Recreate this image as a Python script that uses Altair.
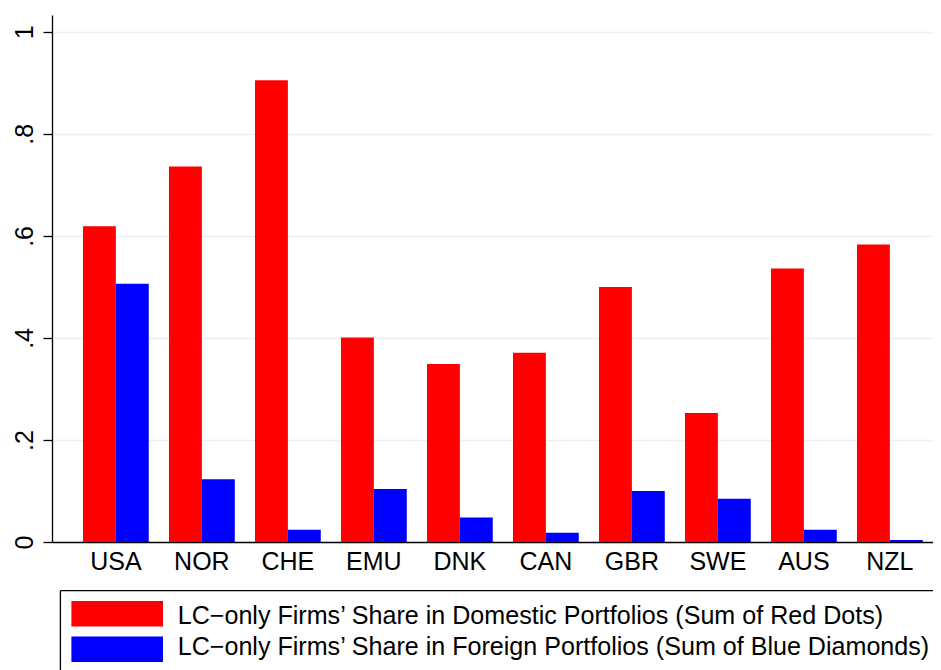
import altair as alt
import pandas as pd

countries = ["USA", "NOR", "CHE", "EMU", "DNK", "CAN", "GBR", "SWE", "AUS", "NZL"]
domestic = [0.619, 0.736, 0.905, 0.401, 0.349, 0.371, 0.500, 0.253, 0.536, 0.583]
foreign = [0.506, 0.123, 0.024, 0.104, 0.048, 0.018, 0.100, 0.085, 0.024, 0.004]
series_names = [
    "LC\u2212only Firms\u2019 Share in Domestic Portfolios (Sum of Red Dots)",
    "LC\u2212only Firms\u2019 Share in Foreign Portfolios (Sum of Blue Diamonds)",
]
series_colors = ["#ff0000", "#0000ff"]
y_ticks = [0, 0.2, 0.4, 0.6, 0.8, 1.0]
y_tick_labels = ["0", ".2", ".4", ".6", ".8", "1"]

rows = []
for c, d, f in zip(countries, domestic, foreign):
    rows.append({"country": c, "series": series_names[0], "value": d})
    rows.append({"country": c, "series": series_names[1], "value": f})
df = pd.DataFrame(rows)
legend_df = pd.DataFrame({"series": series_names})
one = pd.DataFrame({"a": [0]})

FONT = "Liberation Sans"
W, H = 881, 527
PAD_LEFT, PAD_TOP, PAD_BOTTOM = 44, 7, 128

label_expr = " : ".join(
    f"abs(datum.value - {v}) < 1e-6 ? '{l}'" for v, l in zip(y_ticks, y_tick_labels)
) + " : ''"

color_scale = alt.Scale(domain=series_names, range=series_colors)

bars = alt.Chart(df).mark_bar().encode(
    x=alt.X(
        "country:N",
        sort=countries,
        scale=alt.Scale(paddingInner=0.235, paddingOuter=0.2395, align=0.752),
        axis=alt.Axis(
            title=None, ticks=False, tickSize=0, labelAngle=0, labelFont=FONT,
            labelFontSize=25, labelColor="black", labelBaseline="alphabetic",
            labelPadding=27, domain=True, domainColor="black", domainWidth=1.3,
            grid=False,
        ),
    ),
    xOffset=alt.XOffset("series:N", sort=series_names,
                        scale=alt.Scale(paddingInner=0, paddingOuter=0)),
    y=alt.Y(
        "value:Q",
        scale=alt.Scale(domain=[0, 1.033], nice=False),
        axis=alt.Axis(
            title=None, values=y_ticks, labelExpr=label_expr, labelAngle=270,
            labelAlign="center", labelBaseline="alphabetic", labelPadding=11,
            ticks=True, tickSize=9, tickColor="black", tickWidth=1.3,
            domain=True, domainColor="black", domainWidth=1.3,
            grid=True, gridColor="#eaf1f3", gridWidth=1.5,
            labelFont=FONT, labelFontSize=25, labelColor="black",
        ),
    ),
    color=alt.Color("series:N", scale=color_scale, legend=None),
)

leg_y = alt.Y("series:N", sort=series_names,
              scale=alt.Scale(range=[586, 647], paddingInner=0.28, paddingOuter=0),
              axis=None)

leg_rect = alt.Chart(legend_df).mark_bar().encode(
    x=alt.value(19.4), x2=alt.value(111), y=leg_y,
    color=alt.Color("series:N", scale=color_scale, legend=None),
)

leg_text = alt.Chart(legend_df).mark_text(
    align="left", baseline="middle", font=FONT, fontSize=25.1, color="black"
).encode(x=alt.value(125.7), y=leg_y, text="series:N")

box_top = alt.Chart(one).mark_rule(color="black", strokeWidth=1.3).encode(
    x=alt.value(8.4), x2=alt.value(W), y=alt.value(575.7)
)
box_left = alt.Chart(one).mark_rule(color="black", strokeWidth=1.3).encode(
    x=alt.value(8.4), y=alt.value(575.7), y2=alt.value(H + PAD_BOTTOM)
)

chart = (
    alt.layer(bars, leg_rect, leg_text, box_top, box_left)
    .resolve_scale(y="independent")
    .properties(
        width=W, height=H,
        autosize=alt.AutoSizeParams(type="none"),
        padding={"left": PAD_LEFT, "top": PAD_TOP, "right": 0, "bottom": PAD_BOTTOM},
    )
    .configure_view(stroke=None)
)

chart.save("out.html", embed_options={"renderer": "svg", "actions": False})
